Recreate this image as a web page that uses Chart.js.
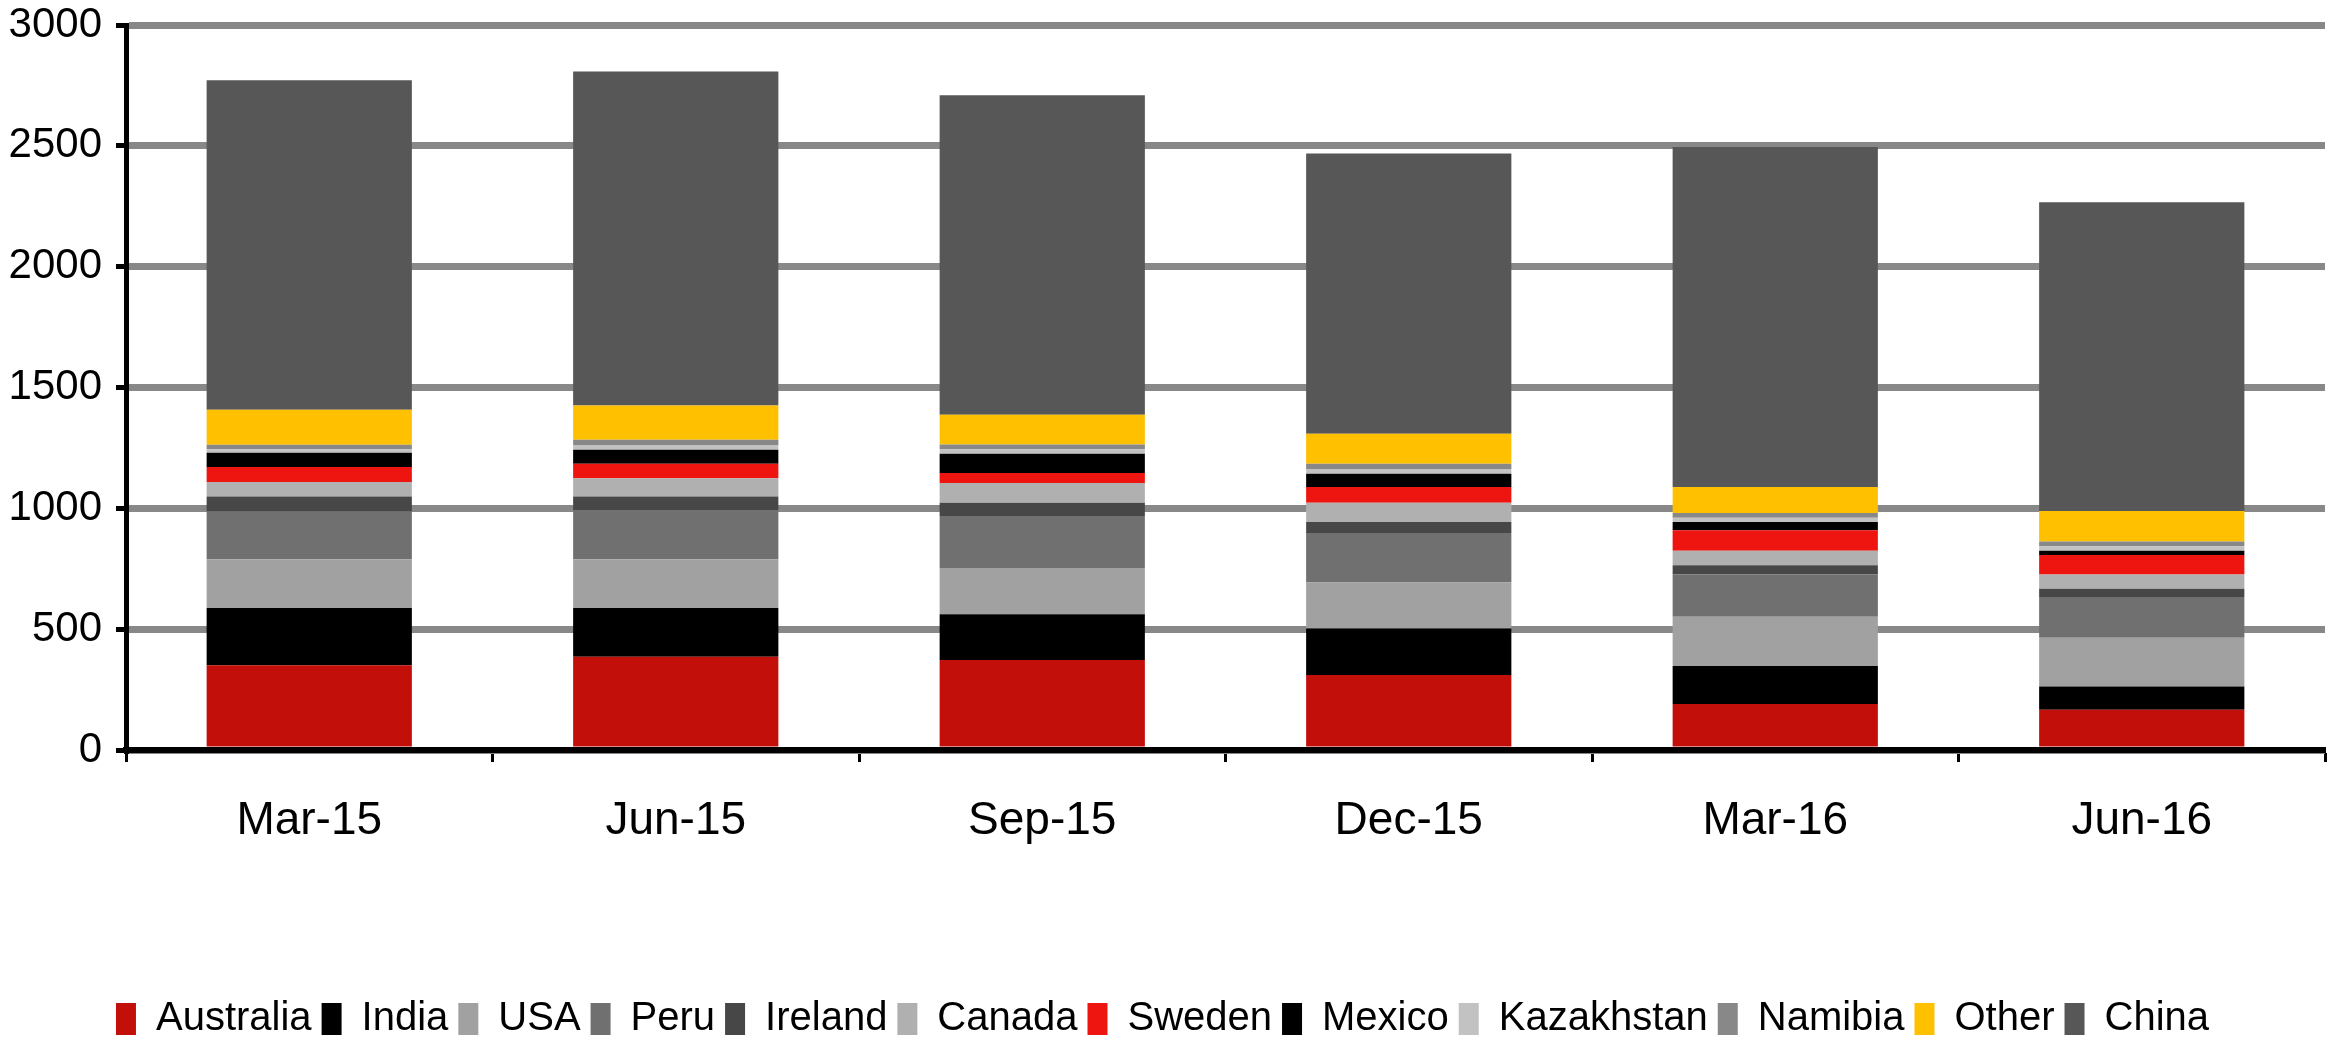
<!DOCTYPE html>
<html>
<head>
<meta charset="utf-8">
<script src="https://cdn.jsdelivr.net/npm/chart.js@4/dist/chart.umd.min.js"></script>
<style>
  body{margin:0;background:#fff;}
  #divid{width:2349px;height:1043px;position:relative;}
</style>
</head>
<body>
<div id="divid"><canvas id="chart"></canvas></div>
<script>
const quarters=["Mar-15","Jun-15","Sep-15","Dec-15","Mar-16","Jun-16"]
const yTicks=[0,500,1000,1500,2000,2500,3000]

const australia=[351,386,372,310,190,167]
const india=[237,202,190,193,158,96]
const usa=[201,201,191,190,203,202]
const peru=[198,203,215,205,175,168]
const ireland=[62,57,55,45,38,34]
const canada=[60,76,82,80,60,59]
const sweden=[62,59,41,65,85,81]
const mexico=[59,58,80,55,34,18]
const kazakhstan=[15,20,18,20,18,18]
const namibia=[18,22,20,21,20,20]
const other=[145,142,123,125,107,126]
const china=[1363,1382,1322,1159,1407,1278]

const fontName="'Liberation Sans',Arial,sans-serif"

makeSet=(label,values,color)=>{
    return {
        label:label,
        data:values,
        backgroundColor:color,
        borderWidth:0,
        categoryPercentage:1,
        barPercentage:0.56
    }
}

drawChart=()=>{
    var ctx=document.getElementById('chart').getContext('2d');
    var myChart=new Chart(ctx,{
        type:'bar',
        data:{
            labels:quarters,
            datasets:[
                makeSet('Australia',australia,'#c30f0a'),
                makeSet('India',india,'#000000'),
                makeSet('USA',usa,'#a1a1a1'),
                makeSet('Peru',peru,'#707070'),
                makeSet('Ireland',ireland,'#474747'),
                makeSet('Canada',canada,'#b0b0b0'),
                makeSet('Sweden',sweden,'#ee1410'),
                makeSet('Mexico',mexico,'#000000'),
                makeSet('Kazakhstan',kazakhstan,'#c2c2c2'),
                makeSet('Namibia',namibia,'#888888'),
                makeSet('Other',other,'#ffc000'),
                makeSet('China',china,'#575757')
            ]
        },
        options:{
            responsive:true,
            maintainAspectRatio:false,
            animation:false,
            layout:{autoPadding:false,padding:{top:25,right:24,left:0,bottom:-6}},
            plugins:{
                tooltip:{enabled:false},
                legend:{
                    position:'bottom',
                    labels:{
                        boxWidth:20,
                        boxHeight:32,
                        padding:10,
                        color:'#000',
                        font:{family:fontName,size:40}
                    }
                }
            },
            scales:{
                x:{
                    stacked:true,
                    afterFit:(scale)=>{scale.height=239;scale.paddingLeft=0;scale.paddingRight=0},
                    border:{color:'#000',width:6},
                    grid:{drawOnChartArea:false,drawTicks:true,tickLength:12,tickWidth:3,tickColor:'#000'},
                    ticks:{color:'#000',padding:32,font:{family:fontName,size:46}}
                },
                y:{
                    stacked:true,
                    min:0,
                    max:3000,
                    afterFit:(scale)=>{scale.width=126;scale.paddingTop=0;scale.paddingBottom=0},
                    afterBuildTicks:(scale)=>{scale.ticks=yTicks.map(v=>({value:v}))},
                    border:{color:'#000',width:5},
                    grid:{color:'#888888',lineWidth:7,tickLength:10,tickWidth:5,tickColor:'#000'},
                    ticks:{color:'#000',padding:14,font:{family:fontName,size:42},callback:(v)=>String(v)}
                }
            }
        }
    });
}

drawChart();
</script>
</body>
</html>
